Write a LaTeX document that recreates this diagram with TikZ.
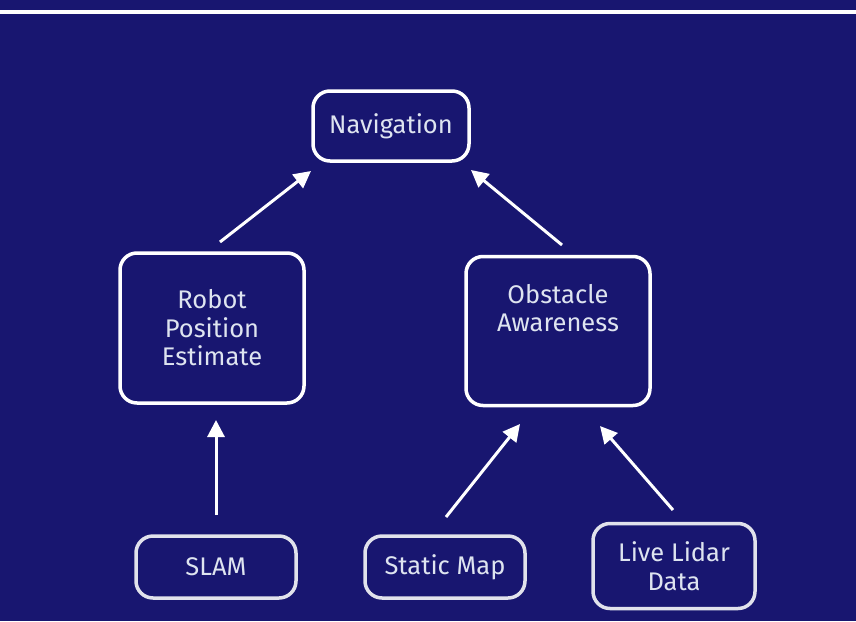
\documentclass[tikz,border=0pt]{standalone}
\usepackage{fontspec}
\setmainfont{Fira Sans}
\usetikzlibrary{arrows.meta}
\definecolor{bg}{RGB}{24,22,112}
\definecolor{txt}{RGB}{222,228,240}
\definecolor{dimline}{RGB}{225,226,236}
\begin{document}
\begin{tikzpicture}[x=1pt,y=-1pt,
  box/.style={draw=white,line width=3.5pt,rounded corners=17pt,text=txt,align=center,
    font=\fontsize{25.5}{28.5}\selectfont,inner sep=0pt},
  lowbox/.style={box,draw=dimline},
  arr/.style={draw=white,line width=3pt,-{Triangle[length=17pt,width=17pt]}}]
\fill[bg] (0,0) rectangle (856,621);
\useasboundingbox (0,0) rectangle (856,621);
\draw[white,line width=3.5pt] (0,12) -- (856,12);
\node[box,minimum width=156pt,minimum height=70pt] (nav) at (391,126) {Navigation};
\node[box,minimum width=184pt,minimum height=150pt] (rpe) at (212,328) {Robot\\Position\\Estimate};
\node[box,minimum width=184pt,minimum height=149pt] (obs) at (558,331) {};
\node[text=txt,align=center,font=\fontsize{25.5}{28.5}\selectfont,inner sep=0pt] (obst) at (558,308) {Obstacle\\Awareness};
\node[lowbox,minimum width=160pt,minimum height=62pt] (slam) at (216,567) {SLAM};
\node[lowbox,minimum width=160pt,minimum height=62pt] (smap) at (445,567) {Static Map};
\node[lowbox,minimum width=162pt,minimum height=85pt] (lidar) at (674,566) {Live Lidar\\Data};
\coordinate (a1s) at (220,242); \coordinate (a1e) at (311,171);
\coordinate (a2s) at (562,245); \coordinate (a2e) at (471,170);
\coordinate (a3s) at (216,515); \coordinate (a3e) at (216,420);
\coordinate (a4s) at (446,517); \coordinate (a4e) at (520,424);
\coordinate (a5s) at (673,510); \coordinate (a5e) at (600,426);
\draw[arr] (a1s) -- (a1e);
\draw[arr] (a2s) -- (a2e);
\draw[arr] (a3s) -- (a3e);
\draw[arr] (a4s) -- (a4e);
\draw[arr] (a5s) -- (a5e);
\end{tikzpicture}
\end{document}
